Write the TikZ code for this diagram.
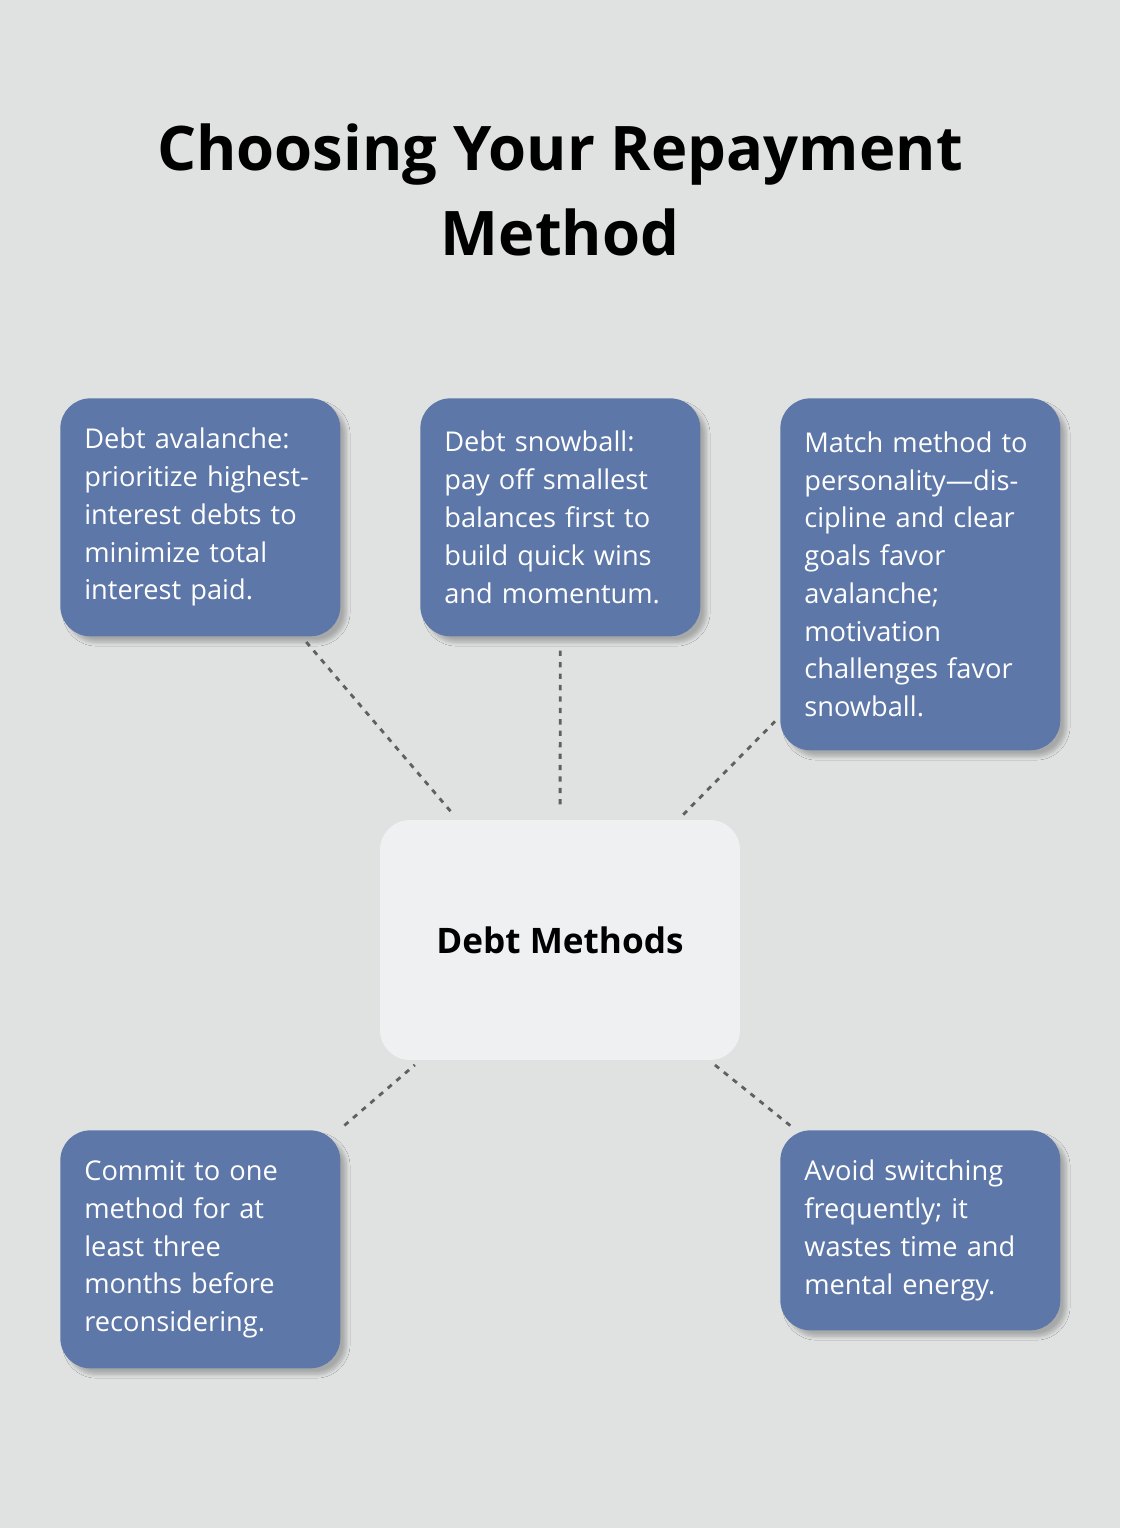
\documentclass[tikz,border=0pt]{standalone}
\usepackage{fontspec}
\setmainfont{Open Sans}
\usetikzlibrary{shadows.blur}
\definecolor{bgcol}{HTML}{E0E2E1}
\definecolor{tipcol}{HTML}{5D77A8}
\definecolor{hubcol}{HTML}{EFF0F2}
\definecolor{linkcol}{HTML}{606060}
\tikzset{
  tip/.style={rectangle, rounded corners=0.6cm, fill=tipcol, text=white, align=left,
    anchor=north west, minimum width=5.6cm, text width=4.64cm, inner xsep=0.48cm,
    inner ysep=0.3cm, font=\fontsize{15.5}{21.5}\selectfont,
    blur shadow={shadow xshift=0.12cm, shadow yshift=-0.12cm, shadow blur steps=6, shadow opacity=25}},
  link/.style={linkcol, line width=1.6pt, dash pattern=on 3pt off 3.5pt}
}
\begin{document}
\begin{tikzpicture}[x=0.02cm, y=-0.02cm]
  \fill[bgcol] (0,0) rectangle (1120,1528);
  \useasboundingbox (0,0) rectangle (1120,1528);
  % Title
  \node (title) [font=\fontsize{35}{48}\selectfont\bfseries, align=center] at (560,190)
    {Choosing Your Repayment\\Method};
  % Centre
  \node (hub) [rectangle, rounded corners=0.6cm, fill=hubcol, minimum width=7.2cm,
    minimum height=4.8cm, font=\fontsize{20}{24}\selectfont\bfseries] at (560,940) {Debt Methods};
  % Tips
  \node (avalanche) [tip, minimum height=4.76cm] at (60,398)
    {Debt avalanche:\\prioritize highest-\\interest debts to\\minimize total\\interest paid.};
  \node (snowball) [tip, minimum height=4.76cm] at (420,398)
    {Debt snowball:\\pay off smallest\\balances first to\\build quick wins\\and momentum.};
  \node (personality) [tip, minimum height=7.04cm] at (780,398)
    {Match method to\\personality—dis-\\cipline and clear\\goals favor\\avalanche;\\motivation\\challenges favor\\snowball.};
  \node (commit) [tip, minimum height=4.76cm] at (60,1130)
    {Commit to one\\method for at\\least three\\months before\\reconsidering.};
  \node (switching) [tip, minimum height=4cm] at (780,1130)
    {Avoid switching\\frequently; it\\wastes time and\\mental energy.};
  % Links
  \draw [link, shorten <=4pt, shorten >=4pt] (avalanche) -- (hub);
  \draw [link, shorten <=8pt, shorten >=8pt] (snowball) -- (hub);
  \draw [link, shorten <=4pt, shorten >=4pt] (personality) -- (hub);
  \draw [link, shorten <=4pt, shorten >=4pt] (commit) -- (hub);
  \draw [link, shorten <=4pt, shorten >=4pt] (switching) -- (hub);
\end{tikzpicture}
\end{document}
